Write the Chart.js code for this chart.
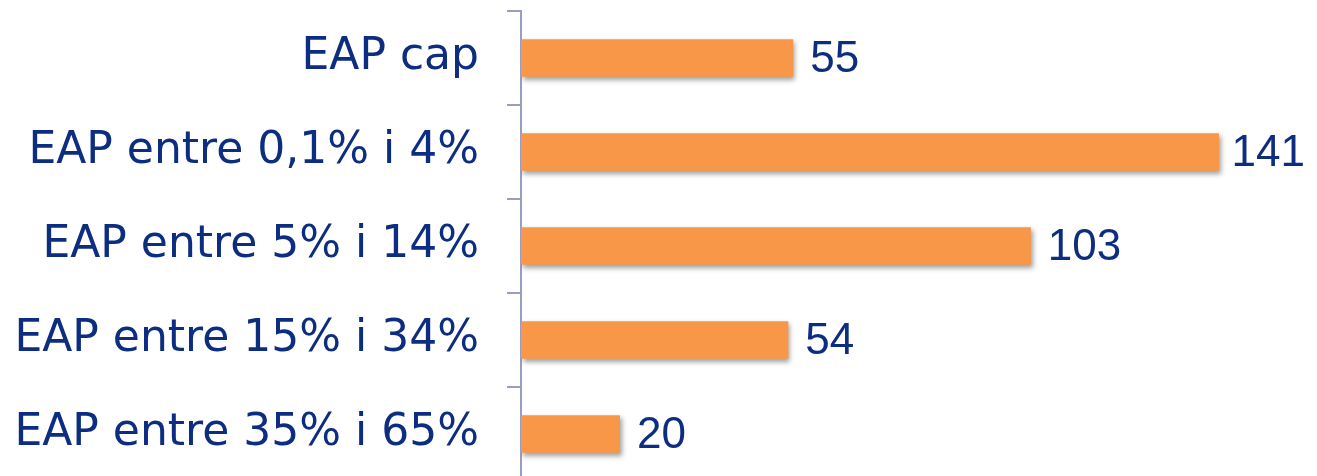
<!DOCTYPE html>
<html>
<head>
<meta charset="utf-8">
<script src="https://cdn.jsdelivr.net/npm/chart.js@4/dist/chart.umd.min.js"></script>
<style>
  html, body { margin: 0; padding: 0; background: #ffffff; overflow: hidden; }
  #wrap { position: relative; width: 1317px; height: 482px; }
</style>
</head>
<body>
<div id="wrap"><canvas id="c"></canvas></div>
<script>
const categories = ["EAP cap", "EAP entre 0,1% i 4%", "EAP entre 5% i 14%", "EAP entre 15% i 34%", "EAP entre 35% i 65%"];
const values = [55, 141, 103, 54, 20];
const valueLabels = ["55", "141", "103", "54", "20"];

const NAVY = '#0C2D80';
const AXIS = '#9A9DC0';

const shadowPlugin = {
  id: 'barShadow',
  beforeDatasetsDraw(chart) {
    const ctx = chart.ctx;
    ctx.save();
    ctx.shadowColor = 'rgba(0,0,0,0.38)';
    ctx.shadowBlur = 5;
    ctx.shadowOffsetX = 2;
    ctx.shadowOffsetY = 3;
  },
  afterDatasetsDraw(chart) {
    chart.ctx.restore();
  }
};

const valueLabelPlugin = {
  id: 'valueLabels',
  afterDatasetsDraw(chart) {
    const ctx = chart.ctx;
    const meta = chart.getDatasetMeta(0);
    ctx.save();
    ctx.font = '44px "Liberation Sans", Arial, sans-serif';
    ctx.fillStyle = NAVY;
    ctx.textBaseline = 'middle';
    ctx.textAlign = 'left';
    meta.data.forEach((bar, i) => {
      const txt = valueLabels[i];
      const w = ctx.measureText(txt).width;
      let x = bar.x + 17;
      if (x + w > chart.width - 12) x = chart.width - 12 - w;
      ctx.fillText(txt, x, bar.y + 2);
    });
    ctx.restore();
  }
};

new Chart(document.getElementById('c'), {
  type: 'bar',
  data: {
    labels: categories,
    datasets: [{
      data: values,
      backgroundColor: '#F79747',
      borderWidth: 0,
      barPercentage: 0.4,
      categoryPercentage: 1.0
    }]
  },
  options: {
    indexAxis: 'y',
    responsive: true,
    maintainAspectRatio: false,
    animation: false,
    layout: { padding: { top: 11, right: 4, bottom: 1, left: 0 } },
    plugins: { legend: { display: false }, tooltip: { enabled: false } },
    scales: {
      x: {
        display: false,
        min: 0,
        max: 160
      },
      y: {
        afterFit(scale) {
          scale.width = 521;
          scale.paddingTop = 0;
          scale.paddingBottom = 0;
        },
        border: { display: true, color: AXIS, width: 2 },
        grid: {
          display: true,
          drawOnChartArea: false,
          drawTicks: true,
          tickLength: 14,
          color: AXIS,
          lineWidth: 2,
          offset: true
        },
        ticks: {
          color: NAVY,
          padding: 28,
          font: { family: '"DejaVu Sans", Verdana, sans-serif', size: 44 }
        }
      }
    }
  },
  plugins: [shadowPlugin, valueLabelPlugin]
});
</script>
</body>
</html>
